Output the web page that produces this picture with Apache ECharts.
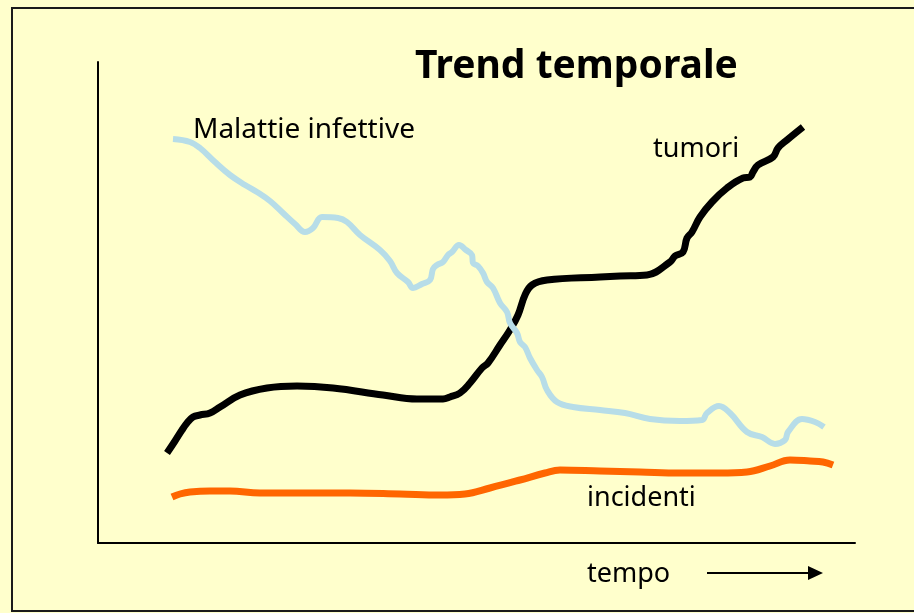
<!DOCTYPE html>
<html>
<head>
<meta charset="utf-8">
<script src="https://cdn.jsdelivr.net/npm/echarts@6/dist/echarts.min.js"></script>
<style>
html,body{margin:0;padding:0;background:#FFFFCC;}
#chart{width:914px;height:613px;}
</style>
</head>
<body>
<div id="chart"></div>
<script>
// time units (0..757) and level units (0..481)
var malattieInfettive = [[75,404],[92,401],[102,395],[117,381],[132,368],[147,358],[159,351],[172,342],[185,330],[197,319],[207,311],[215,315],[224,326],[240,325],[249,321],[262,308],[282,293],[292,282],[299,270],[310,261],[315,255],[324,259],[332,263],[335,274],[339,278],[345,281],[350,288],[354,291],[361,298],[368,293],[374,288],[375,280],[380,277],[385,270],[389,261],[395,255],[402,240],[409,231],[412,220],[419,210],[422,201],[427,196],[432,185],[439,173],[444,166],[449,153],[459,141],[475,136],[502,133],[527,130],[552,124],[582,122],[604,123],[609,130],[621,137],[632,130],[649,111],[664,106],[677,99],[687,103],[690,111],[704,124],[717,121],[726,116]];
var tumori = [[69,90],[77,102],[84,113],[89,120],[95,126],[102,128],[112,130],[122,136],[142,148],[169,155],[199,157],[235,155],[285,148],[319,144],[345,144],[352,146],[362,150],[372,160],[384,175],[390,180],[402,198],[412,213],[420,228],[427,248],[434,258],[449,263],[502,266],[522,267],[549,268],[572,281],[577,287],[585,291],[589,305],[594,311],[602,326],[614,341],[629,355],[645,365],[652,366],[655,371],[660,378],[675,386],[680,395],[689,403],[705,416]];
var incidenti = [[74,46],[82,49],[92,51],[112,52],[132,52],[162,50],[202,50],[252,50],[302,49],[342,48],[367,49],[392,55],[422,63],[447,70],[462,73],[502,72],[542,71],[582,70],[622,70],[649,71],[672,77],[692,83],[712,82],[725,81],[735,78]];
var titleText = 'Trend temporale';
var labelMalattie = 'Malattie infettive';
var labelTumori = 'tumori';
var labelIncidenti = 'incidenti';
var labelTempo = 'tempo';

var chart = echarts.init(document.getElementById('chart'));
var font = '"Noto Sans", "Open Sans", sans-serif';
function lbl(text, x, y, size, weight) {
  return {type:'text', left:x, top:y, z:10,
    style:{text:text, fill:'#000', font: (weight||'normal') + ' ' + size + 'px ' + font, textVerticalAlign:'top'}};
}
chart.setOption({
  backgroundColor:'#FFFFCC',
  animation:false,
  grid:{left:98, right:59, top:62, bottom:70},
  xAxis:{type:'value', min:0, max:757, axisLine:{show:true, onZero:false, lineStyle:{color:'#000', width:2}},
    axisTick:{show:false}, axisLabel:{show:false}, splitLine:{show:false}},
  yAxis:{type:'value', min:0, max:481, axisLine:{show:true, onZero:false, lineStyle:{color:'#000', width:2}},
    axisTick:{show:false}, axisLabel:{show:false}, splitLine:{show:false}},
  series:[
    {name:'incidenti', type:'line', data:incidenti, smooth:0.4, showSymbol:false,
      lineStyle:{color:'#FF6600', width:7, cap:'butt', join:'round'}},
    {name:'tumori', type:'line', data:tumori, smooth:0.4, showSymbol:false,
      lineStyle:{color:'#000000', width:7, cap:'butt', join:'round'}},
    {name:'Malattie infettive', type:'line', data:malattieInfettive, smooth:0.4, showSymbol:false,
      lineStyle:{color:'#B7DDE8', width:6, cap:'butt', join:'round'}}
  ],
  graphic:[
    {type:'rect', shape:{x:12, y:8, width:940, height:603}, style:{fill:null, stroke:'#1a1a1a', lineWidth:2}, z:20},
    lbl(titleText, 415, 47, 39, 'bold'),
    lbl(labelMalattie, 193, 116, 28),
    lbl(labelTumori, 653, 136, 27),
    lbl(labelIncidenti, 587, 485, 27),
    lbl(labelTempo, 587, 561, 27),
    {type:'line', shape:{x1:707, y1:573, x2:810, y2:573}, style:{stroke:'#000', lineWidth:2}},
    {type:'polygon', shape:{points:[[808,566],[823,573],[808,580]]}, style:{fill:'#000'}}
  ]
});
</script>
</body>
</html>
